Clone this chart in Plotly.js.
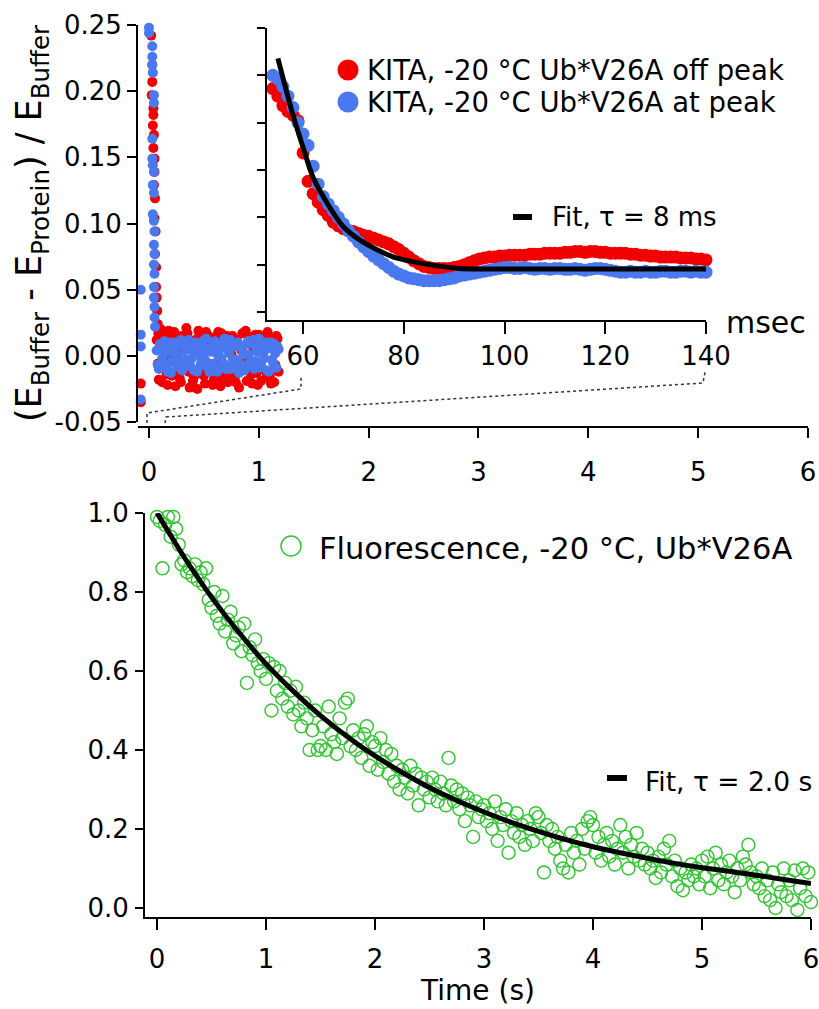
<!DOCTYPE html>
<html>
<head>
<meta charset="utf-8">
<script src="https://cdn.plot.ly/plotly-3.0.1.min.js"></script>
<style>html,body{margin:0;padding:0;background:#fff;}#plot{width:819px;height:1009px;}</style>
</head>
<body>
<div id="plot"></div>
<script>
// ---------------- DATA ----------------
// Top panel (KITA), time in seconds
const mainRedColT = [-0.075,-0.075,0.02,0.03,0.03,0.025,0.04,0.04,0.035,0.045,0.04,0.05,0.05,0.045,0.055,0.05,0.06,0.055,0.065,0.065,0.07,0.075,0.08,0.085];
const mainRedColY = [-0.021,-0.035,0.242,0.220,0.207,0.197,0.187,0.182,0.174,0.167,0.157,0.149,0.139,0.129,0.119,0.104,0.094,0.077,0.067,0.052,0.044,0.034,0.024,0.017];
const mainBlueColT = [-0.075,-0.075,-0.075,-0.075,0.0,0.0,0.03,0.03,0.03,0.035,0.045,0.045,0.03,0.03,0.035,0.045,0.035,0.045,0.035,0.045,0.05,0.045,0.05,0.045,0.05,0.045,0.045,0.05,0.05,0.055];
const mainBlueColY = [0.050,0.016,0.007,-0.033,0.248,0.244,0.234,0.226,0.220,0.214,0.197,0.191,0.164,0.149,0.144,0.139,0.129,0.123,0.107,0.102,0.094,0.084,0.077,0.069,0.062,0.052,0.044,0.037,0.029,0.022];
const noiseT = [0.07,0.09,0.11,0.13,0.15,0.17,0.19,0.21,0.23,0.25,0.27,0.29,0.31,0.33,0.35,0.37,0.39,0.41,0.43,0.45,0.47,0.49,0.51,0.53,0.55,0.57,0.59,0.61,0.63,0.65,0.67,0.69,0.71,0.73,0.75,0.77,0.79,0.81,0.83,0.85,0.87,0.89,0.91,0.93,0.95,0.97,0.99,1.01,1.03,1.05,1.07,1.09,1.11,1.13,1.15,1.17];
const noiseT2 = [0.08,0.10,0.12,0.14,0.16,0.18,0.20,0.22,0.24,0.26,0.28,0.30,0.32,0.34,0.36,0.38,0.40,0.42,0.44,0.46,0.48,0.50,0.52,0.54,0.56,0.58,0.60,0.62,0.64,0.66,0.68,0.70,0.72,0.74,0.76,0.78,0.80,0.82,0.84,0.86,0.88,0.90,0.92,0.94,0.96,0.98,1.00,1.02,1.04,1.06,1.08,1.10,1.12,1.14,1.16,1.18];
const redNoise = [0.012,-0.018,0.020,-0.008,0.015,-0.022,0.006,-0.015,0.018,-0.012,0.003,-0.020,0.014,-0.005,0.017,-0.024,0.009,-0.016,0.002,0.019,-0.013,0.007,-0.021,0.016,-0.006,0.011,-0.018,0.004,0.018,-0.023,0.010,-0.009,0.015,-0.017,0.001,0.013,-0.020,0.008,-0.011,0.017,-0.004,-0.019,0.012,-0.014,0.006,0.016,-0.022,0.003,-0.010,0.014,-0.016,0.009,-0.021,0.011,-0.007,0.013];
const redNoise2 = [-0.006,0.016,-0.020,0.010,-0.014,0.019,-0.003,0.013,-0.023,0.008,-0.017,0.015,-0.009,0.021,-0.012,0.005,-0.019,0.012,-0.025,0.016,0.002,-0.015,0.018,-0.008,0.011,-0.022,0.014,-0.005,-0.018,0.017,-0.013,0.009,-0.020,0.006,0.015,-0.016,0.012,-0.024,0.004,-0.010,0.019,-0.007,0.014,-0.021,0.010,-0.013,0.016,-0.019,0.007,-0.011,0.018,-0.015,0.012,-0.020,0.015,-0.012];
const blueNoise = [0.004,-0.010,0.008,-0.006,0.002,-0.012,0.010,-0.004,0.006,-0.008,0.000,0.012,-0.010,0.004,-0.006,0.009,-0.002,-0.011,0.007,0.001,-0.007,0.011,-0.003,0.005,-0.012,0.003,0.008,-0.009,0.000,0.006,-0.005,0.013,-0.008,0.002,-0.010,0.007,-0.003,0.010,-0.006,0.004,-0.011,0.009,0.001,-0.007,0.012,-0.004,0.003,-0.009,0.008,-0.002,0.005,-0.012,0.010,-0.005,0.002,0.007];
const blueNoise2 = [-0.007,0.009,-0.002,0.011,-0.009,0.005,-0.013,0.003,0.010,-0.006,0.008,-0.011,0.006,-0.003,0.012,-0.008,0.004,0.010,-0.012,0.007,-0.004,0.002,0.013,-0.009,0.006,-0.006,0.011,-0.012,0.004,-0.002,0.009,-0.010,0.005,0.012,-0.004,-0.009,0.008,-0.013,0.006,0.001,-0.008,0.011,-0.005,0.009,-0.010,0.004,0.013,-0.007,0.002,0.010,-0.011,0.006,-0.003,0.009,-0.009,0.005];

// Inset (msec)
const insetT = [54,55,56,57,58,59,60,61,62,63,64,65,66,67,68,69,70,71,72,73,74,75,76,77,78,79,80,81,82,83,84,85,86,87,88,89,90,91,92,93,94,95,96,97,98,99,100,101,102,103,104,105,106,107,108,109,110,111,112,113,114,115,116,117,118,119,120,121,122,123,124,125,126,127,128,129,130,131,132,133,134,135,136,137,138,139,140];
const insetRed = [0.186,0.178,0.168,0.162,0.158,0.152,0.118,0.088,0.075,0.066,
0.058,0.052,0.045,0.041,0.038,0.036,0.035,0.033,0.031,0.030,
0.028,0.026,0.024,0.022,0.019,0.016,0.012,0.008,0.004,0.001,
-0.002,-0.003,-0.004,-0.004,-0.004,-0.004,-0.003,-0.002,0.000,0.002,
0.004,0.006,0.007,0.008,0.008,0.009,0.009,0.010,0.010,0.010,
0.010,0.011,0.011,0.011,0.012,0.012,0.012,0.012,0.013,0.013,
0.014,0.014,0.013,0.014,0.014,0.013,0.013,0.012,0.012,0.012,
0.012,0.011,0.011,0.010,0.010,0.009,0.009,0.008,0.008,0.008,
0.008,0.007,0.007,0.007,0.006,0.006,0.005];
const insetBlue = [0.200,0.196,0.188,0.178,0.166,0.150,0.138,0.126,0.104,0.085,
0.072,0.064,0.057,0.050,0.043,0.036,0.030,0.024,0.019,0.014,
0.009,0.005,0.001,-0.003,-0.007,-0.010,-0.012,-0.014,-0.015,-0.016,
-0.017,-0.017,-0.017,-0.017,-0.016,-0.015,-0.014,-0.012,-0.011,-0.010,
-0.009,-0.008,-0.007,-0.006,-0.005,-0.004,-0.003,-0.003,-0.004,-0.004,
-0.003,-0.004,-0.005,-0.004,-0.004,-0.005,-0.004,-0.004,-0.005,-0.005,
-0.004,-0.005,-0.006,-0.005,-0.004,-0.004,-0.005,-0.006,-0.007,-0.008,
-0.008,-0.007,-0.008,-0.008,-0.007,-0.008,-0.008,-0.007,-0.007,-0.008,
-0.008,-0.007,-0.007,-0.008,-0.007,-0.008,-0.008];
const insetFitT = [55,58,60,62,65,68,71,75,78,81,85,91,100,110,120,130,140];
const insetFitY = [0.218,0.158,0.124,0.092,0.063,0.040,0.027,0.015,0.008,0.004,0.000,-0.004,-0.0046,-0.0046,-0.0046,-0.0046,-0.0046];

// Bottom panel (fluorescence), time in seconds
const fluoT = [
0,0.025,0.05,0.075,0.1,0.125,0.15,0.175,0.2,0.225,0.25,0.275,0.3,0.325,0.35,0.375,0.4,0.425,0.45,0.475,
0.5,0.525,0.55,0.575,0.6,0.625,0.65,0.675,0.7,0.725,0.75,0.775,0.8,0.825,0.85,0.875,0.9,0.925,0.95,0.975,
1,1.025,1.05,1.075,1.1,1.125,1.15,1.175,1.2,1.225,1.25,1.275,1.3,1.325,1.35,1.375,1.4,1.425,1.45,1.475,
1.5,1.525,1.55,1.575,1.6,1.625,1.65,1.675,1.7,1.725,1.75,1.775,1.8,1.825,1.85,1.875,1.9,1.925,1.95,1.975,
2,2.025,2.05,2.075,2.1,2.125,2.15,2.175,2.2,2.225,2.25,2.275,2.3,2.325,2.35,2.375,2.4,2.425,2.45,2.475,
2.5,2.525,2.55,2.575,2.6,2.625,2.65,2.675,2.7,2.725,2.75,2.775,2.8,2.825,2.85,2.875,2.9,2.925,2.95,2.975,
3,3.025,3.05,3.075,3.1,3.125,3.15,3.175,3.2,3.225,3.25,3.275,3.3,3.325,3.35,3.375,3.4,3.425,3.45,3.475,
3.5,3.525,3.55,3.575,3.6,3.625,3.65,3.675,3.7,3.725,3.75,3.775,3.8,3.825,3.85,3.875,3.9,3.925,3.95,3.975,
4,4.025,4.05,4.075,4.1,4.125,4.15,4.175,4.2,4.225,4.25,4.275,4.3,4.325,4.35,4.375,4.4,4.425,4.45,4.475,
4.5,4.525,4.55,4.575,4.6,4.625,4.65,4.675,4.7,4.725,4.75,4.775,4.8,4.825,4.85,4.875,4.9,4.925,4.95,4.975,
5,5.025,5.05,5.075,5.1,5.125,5.15,5.175,5.2,5.225,5.25,5.275,5.3,5.325,5.35,5.375,5.4,5.425,5.45,5.475,
5.5,5.525,5.55,5.575,5.6,5.625,5.65,5.675,5.7,5.725,5.75,5.775,5.8,5.825,5.85,5.875,5.9,5.925,5.95,5.975,
6];
const fluoY = [
0.99,0.98,0.86,0.97,0.99,0.94,0.99,0.96,0.92,0.87,0.88,0.85,0.86,0.84,0.87,0.83,0.85,0.82,0.86,0.78,
0.76,0.80,0.74,0.72,0.79,0.70,0.73,0.75,0.67,0.69,0.71,0.65,0.72,0.57,0.66,0.64,0.68,0.62,0.60,0.63,
0.58,0.62,0.50,0.61,0.55,0.60,0.53,0.57,0.51,0.55,0.49,0.56,0.50,0.46,0.52,0.48,0.40,0.45,0.50,0.40,
0.41,0.46,0.40,0.51,0.44,0.42,0.39,0.48,0.43,0.52,0.53,0.41,0.45,0.40,0.43,0.38,0.44,0.46,0.36,0.42,
0.41,0.35,0.43,0.37,0.40,0.34,0.39,0.32,0.36,0.30,0.35,0.33,0.29,0.36,0.31,0.34,0.26,0.33,0.30,0.32,
0.28,0.33,0.30,0.27,0.32,0.29,0.26,0.38,0.31,0.27,0.30,0.25,0.29,0.22,0.28,0.26,0.18,0.27,0.23,0.25,
0.26,0.22,0.24,0.20,0.27,0.17,0.23,0.21,0.25,0.14,0.22,0.19,0.24,0.18,0.21,0.16,0.22,0.20,0.17,0.24,
0.23,0.19,0.09,0.21,0.17,0.20,0.15,0.18,0.12,0.10,0.16,0.09,0.19,0.14,0.17,0.11,0.20,0.15,0.22,0.23,
0.21,0.14,0.18,0.12,0.16,0.19,0.13,0.17,0.11,0.15,0.21,0.14,0.18,0.10,0.16,0.13,0.19,0.12,0.15,0.11,
0.14,0.10,0.12,0.076,0.13,0.09,0.15,0.11,0.17,0.08,0.12,0.055,0.10,0.045,0.09,0.07,0.11,0.08,0.10,0.06,
0.12,0.08,0.13,0.05,0.10,0.14,0.07,0.11,0.06,0.09,0.12,0.08,0.04,0.10,0.07,0.13,0.11,0.16,0.09,0.06,
0.08,0.05,0.10,0.03,0.07,0.02,0.09,0.00,0.06,0.04,0.10,0.03,0.07,0.02,0.095,-0.005,0.05,0.10,0.03,0.09,
0.015];
const fluoFitT = [0,0.25,0.5,0.75,1,1.25,1.5,1.75,2,2.25,2.5,2.75,3,3.25,3.5,3.75,4,4.25,4.5,4.75,5,5.25,5.5,5.75,6];
const fluoFitY = [1.000,0.888,0.787,0.698,0.618,0.549,0.487,0.433,0.385,0.343,0.305,0.272,0.243,0.217,0.194,0.173,0.155,0.140,0.126,0.113,0.102,0.093,0.083,0.072,0.062];

const mainYTicks = [-0.05,0,0.05,0.10,0.15,0.20,0.25];
const mainYLabels = ['-0.05','0.00','0.05','0.10','0.15','0.20','0.25'];
const xTicks = [0,1,2,3,4,5,6];
const insetXTicks = [60,80,100,120,140];
const insetYTicks = [-0.05,0,0.05,0.10,0.15,0.20,0.25];
const fluoYTicks = [0,0.2,0.4,0.6,0.8,1.0];
const fluoYLabels = ['0.0','0.2','0.4','0.6','0.8','1.0'];

// ---------------- STYLE ----------------
const W = 819, H = 1009;
const PX = v => v / W;
const PY = v => 1 - v / H;
const FONT = 'DejaVu Sans';
const RED = '#f20000', BLUE = '#4a78ee', GREEN = '#2fc62f';

const traces = [
  {x: mainRedColT.concat(noiseT, noiseT2), y: mainRedColY.concat(redNoise, redNoise2), xaxis:'x', yaxis:'y', type:'scatter', mode:'markers',
   name:'KITA, -20 °C Ub*V26A off peak', marker:{color:RED, size:10}, cliponaxis:false, showlegend:false},
  {x: mainBlueColT.concat(noiseT, noiseT2), y: mainBlueColY.concat(blueNoise, blueNoise2), xaxis:'x', yaxis:'y', type:'scatter', mode:'markers',
   name:'KITA, -20 °C Ub*V26A at peak', marker:{color:BLUE, size:10}, cliponaxis:false, showlegend:false},
  {x: insetT, y: insetRed, xaxis:'x2', yaxis:'y2', type:'scatter', mode:'markers',
   name:'KITA, -20 °C Ub*V26A off peak', marker:{color:RED, size:13}, cliponaxis:false, showlegend:false},
  {x: insetT, y: insetBlue, xaxis:'x2', yaxis:'y2', type:'scatter', mode:'markers',
   name:'KITA, -20 °C Ub*V26A at peak', marker:{color:BLUE, size:13}, cliponaxis:false, showlegend:false},
  {x: insetFitT, y: insetFitY, xaxis:'x2', yaxis:'y2', type:'scatter', mode:'lines',
   name:'Fit, τ = 8 ms', line:{color:'#000', width:5, shape:'spline', smoothing:0.8}, cliponaxis:false, showlegend:false},
  {x: fluoT, y: fluoY, xaxis:'x3', yaxis:'y3', type:'scatter', mode:'markers',
   name:'Fluorescence, -20 °C, Ub*V26A', marker:{symbol:'circle-open', color:GREEN, size:13, line:{width:1.4, color:GREEN}}, cliponaxis:false, showlegend:false},
  {x: fluoFitT, y: fluoFitY, xaxis:'x3', yaxis:'y3', type:'scatter', mode:'lines',
   name:'Fit, τ = 2.0 s', line:{color:'#000', width:5, shape:'spline', smoothing:0.8}, cliponaxis:false, showlegend:false}
];

const axBase = {showline:true, linecolor:'#000', linewidth:2, ticks:'outside', tickcolor:'#000', tickwidth:2,
  showgrid:false, zeroline:false, automargin:false, ticklabeloverflow:'allow',
  tickfont:{family:FONT, size:26, color:'#000'}};

const layout = {
  width: W, height: H, autosize:false,
  margin:{l:0, r:0, t:0, b:0},
  paper_bgcolor:'#fff', plot_bgcolor:'rgba(0,0,0,0)',
  font:{family:FONT, color:'#000'},
  showlegend:false,
  xaxis: Object.assign({}, axBase, {domain:[PX(138), PX(808)], range:[-0.1, 6], anchor:'free', position:PY(427),
    tickvals:xTicks, ticklen:10, ticklabelstandoff:12}),
  yaxis: Object.assign({}, axBase, {domain:[PY(422), PY(25)], range:[-0.05, 0.25], anchor:'x',
    tickvals:mainYTicks, ticktext:mainYLabels, ticklen:9, ticklabelstandoff:0,
    title:{text:'(E<sub>Buffer</sub> - E<sub>Protein</sub>) / E<sub>Buffer</sub>', font:{family:FONT, size:35, color:'#000'}, standoff:2}}),
  xaxis2: Object.assign({}, axBase, {domain:[PX(267), PX(706)], range:[52.84, 140], anchor:'y2',
    tickvals:insetXTicks, ticklen:12, ticklabelstandoff:0}),
  yaxis2: Object.assign({}, axBase, {domain:[PY(320), PY(28)], range:[-0.0585, 0.25], anchor:'x2',
    tickvals:insetYTicks, showticklabels:false, ticklen:8}),
  xaxis3: Object.assign({}, axBase, {domain:[PX(145), PX(811)], range:[-0.11, 6], anchor:'y3',
    tickvals:xTicks, ticklen:11, ticklabelstandoff:7,
    title:{text:'Time (s)', font:{family:FONT, size:28, color:'#000'}, standoff:4}}),
  yaxis3: Object.assign({}, axBase, {domain:[PY(917), PY(513)], range:[-0.0228, 1.0], anchor:'x3',
    tickvals:fluoYTicks, ticktext:fluoYLabels, ticklen:8, ticklabelstandoff:1}),
  annotations: [
    {text:'KITA, -20 °C Ub*V26A off peak', x:PX(365), y:PY(70), xref:'paper', yref:'paper', xanchor:'left', yanchor:'middle', showarrow:false, font:{family:FONT, size:27.5, color:'#000'}},
    {text:'KITA, -20 °C Ub*V26A at peak', x:PX(365), y:PY(102), xref:'paper', yref:'paper', xanchor:'left', yanchor:'middle', showarrow:false, font:{family:FONT, size:27.5, color:'#000'}},
    {text:'Fit, τ = 8 ms', x:PX(550), y:PY(217), xref:'paper', yref:'paper', xanchor:'left', yanchor:'middle', showarrow:false, font:{family:FONT, size:26, color:'#000'}},
    {text:'msec', x:PX(724), y:PY(322), xref:'paper', yref:'paper', xanchor:'left', yanchor:'middle', showarrow:false, font:{family:FONT, size:30, color:'#000'}},
    {text:'Fluorescence, -20 °C, Ub*V26A', x:PX(317), y:PY(548), xref:'paper', yref:'paper', xanchor:'left', yanchor:'middle', showarrow:false, font:{family:FONT, size:30.5, color:'#000'}},
    {text:'Fit, τ = 2.0 s', x:PX(643), y:PY(781), xref:'paper', yref:'paper', xanchor:'left', yanchor:'middle', showarrow:false, font:{family:FONT, size:26.5, color:'#000'}}
  ],
  shapes: [
    {type:'circle', xref:'paper', yref:'paper', x0:PX(337.5), x1:PX(358.5), y0:PY(80.5), y1:PY(59.5), fillcolor:RED, line:{width:0}},
    {type:'circle', xref:'paper', yref:'paper', x0:PX(337.5), x1:PX(358.5), y0:PY(112.5), y1:PY(91.5), fillcolor:BLUE, line:{width:0}},
    {type:'rect', xref:'paper', yref:'paper', x0:PX(513), x1:PX(532), y0:PY(220), y1:PY(214), fillcolor:'#000', line:{width:0}},
    {type:'circle', xref:'paper', yref:'paper', x0:PX(281), x1:PX(301), y0:PY(556), y1:PY(536), fillcolor:'rgba(0,0,0,0)', line:{color:GREEN, width:1.5}},
    {type:'rect', xref:'paper', yref:'paper', x0:PX(607), x1:PX(627), y0:PY(781), y1:PY(775), fillcolor:'#000', line:{width:0}},
    {type:'path', xref:'paper', yref:'paper', layer:'above',
     path:`M ${PX(147)} ${PY(423)} L ${PX(147)} ${PY(413)} L ${PX(301)} ${PY(389)} L ${PX(301)} ${PY(376)}`,
     line:{color:'#333', width:1.5, dash:'dot'}},
    {type:'path', xref:'paper', yref:'paper', layer:'above',
     path:`M ${PX(165)} ${PY(423)} L ${PX(166)} ${PY(417)} L ${PX(703)} ${PY(383)} L ${PX(705)} ${PY(372)}`,
     line:{color:'#333', width:1.5, dash:'dot'}}
  ]
};

Plotly.newPlot('plot', traces, layout, {staticPlot:true, displayModeBar:false});
</script>
</body>
</html>
